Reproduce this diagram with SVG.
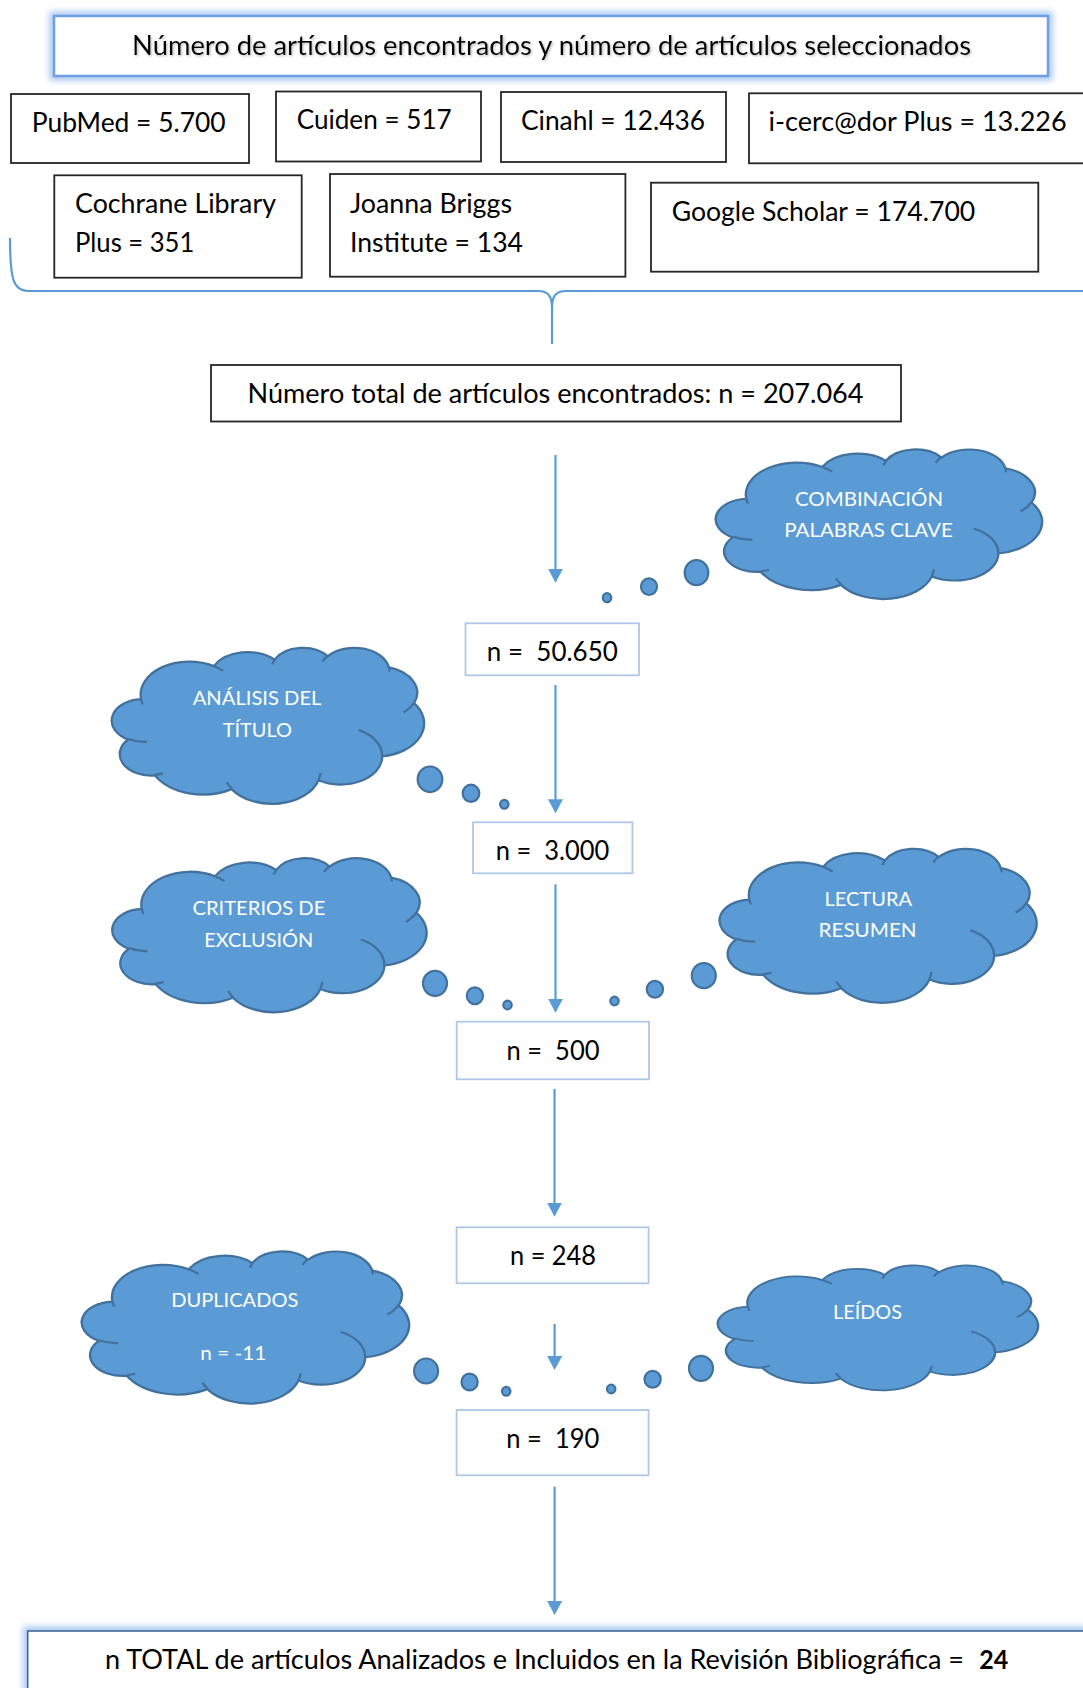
<svg xmlns="http://www.w3.org/2000/svg" xmlns:xlink="http://www.w3.org/1999/xlink" width="1083" height="1688" viewBox="0 0 1083 1688">
<style>
.t{font-family:Lato,"Liberation Sans",sans-serif;font-size:26px;fill:#000;white-space:pre}
.c{font-family:Lato,"Liberation Sans",sans-serif;font-size:20px;fill:#fff}
.bx{fill:#fff;stroke:#262626;stroke-width:1.8}
.nb{fill:#fff;stroke:#AFC7E8;stroke-width:1.8}
.cl{fill:#5B9BD5;stroke:#41719C;stroke-width:2.2;vector-effect:non-scaling-stroke}
.cli{fill:none;stroke:#41719C;stroke-width:2.2;vector-effect:non-scaling-stroke}
.bub{fill:#5B9BD5;stroke:#41719C;stroke-width:2.2}
.arr{stroke:#5B9BD5;stroke-width:2.2;fill:none}
.glow{fill:none;stroke:#A9C8F2;stroke-width:9}
</style>
<defs>
<filter id="blur" x="-5%" y="-30%" width="110%" height="160%"><feGaussianBlur stdDeviation="3"/></filter>
<filter id="tsh" x="-2%" y="-30%" width="104%" height="160%"><feDropShadow dx="1.2" dy="1.2" stdDeviation="0.8" flood-color="#888" flood-opacity="0.6"/></filter>
<marker id="ah" markerUnits="userSpaceOnUse" viewBox="0 0 14 15" refX="12" refY="7.5" markerWidth="14" markerHeight="15" orient="auto"><path d="M0,0 L14,7.5 L0,15 Z" fill="#5B9BD5"/></marker>
<path id="cloudO" d="M27.08,49.90 A46.90,31.91 0 0 1 97.25,18.06 A37.03,25.23 0 0 1 155.94,11.92 A30.31,20.64 0 0 1 207.17,8.61 A33.73,22.90 0 0 1 266.10,19.36 A37.03,25.25 0 0 1 290.41,53.68 A47.05,32.01 0 0 1 259.74,104.86 A40.17,27.32 0 0 1 198.29,127.81 A46.89,32.00 0 0 1 114.44,136.33 A53.61,36.61 0 0 1 40.30,123.15 A30.28,20.55 0 0 1 14.67,88.69 A30.17,20.64 0 0 1 27.08,49.90 Z"/>
<path id="cloudI" d="M32.59,90.89 A30.17,20.64 0 0 1 14.99,88.12 M48.11,121.18 A30.28,20.55 0 0 1 40.41,122.50 M114.43,135.73 A46.89,32.00 0 0 1 109.78,129.68 M200.19,120.66 A46.89,32.00 0 0 1 198.33,127.30 M237.01,79.70 A40.17,27.32 0 0 1 259.58,104.48 M290.26,53.31 A37.03,25.25 0 0 1 280.20,62.61 M266.14,18.84 A33.73,22.90 0 0 1 266.67,23.23 M201.93,13.72 A33.73,22.90 0 0 1 207.09,8.12 M153.76,16.39 A30.31,20.64 0 0 1 156.25,11.57 M97.22,18.03 A46.90,31.91 0 0 1 106.26,22.71 M28.66,54.82 A46.90,31.91 0 0 1 27.09,49.90"/>
</defs>
<rect width="1083" height="1688" fill="#fff"/>

<g id="title">
<rect class="glow" x="54" y="16" width="994" height="60" filter="url(#blur)"/>
<rect x="54" y="16" width="994" height="60" fill="#fff" stroke="#6E9FE6" stroke-width="2.5"/>
<text class="t" x="132" y="55" textLength="839" lengthAdjust="spacingAndGlyphs" filter="url(#tsh)">Número de artículos encontrados y número de artículos seleccionados</text>
</g>

<g id="pubmed"><rect class="bx" x="11" y="94" width="238" height="69"/><text class="t" x="31.7" y="131.7" textLength="194" lengthAdjust="spacingAndGlyphs">PubMed = 5.700</text></g>
<g id="cuiden"><rect class="bx" x="276" y="91.5" width="205" height="70"/><text class="t" x="296.7" y="129.3" textLength="155" lengthAdjust="spacingAndGlyphs">Cuiden = 517</text></g>
<g id="cinahl"><rect class="bx" x="501" y="92" width="225" height="70"/><text class="t" x="521" y="129.5" textLength="184" lengthAdjust="spacingAndGlyphs">Cinahl = 12.436</text></g>
<g id="icercador"><rect class="bx" x="749" y="93.3" width="345" height="70"/><text class="t" x="768.6" y="130.5" textLength="298" lengthAdjust="spacingAndGlyphs">i-cerc@dor Plus = 13.226</text></g>
<g id="cochrane"><rect class="bx" x="54.3" y="175.3" width="247.4" height="102.4"/><text class="t" x="75" y="212.7" textLength="201" lengthAdjust="spacingAndGlyphs">Cochrane Library</text><text class="t" x="75" y="251.7" textLength="119.3" lengthAdjust="spacingAndGlyphs">Plus = 351</text></g>
<g id="joanna"><rect class="bx" x="330" y="174" width="295.4" height="102.7"/><text class="t" x="350" y="212.5" textLength="162" lengthAdjust="spacingAndGlyphs">Joanna Briggs</text><text class="t" x="350" y="251.5" textLength="173" lengthAdjust="spacingAndGlyphs">Institute = 134</text></g>
<g id="google"><rect class="bx" x="651" y="182.7" width="387.3" height="89"/><text class="t" x="671.7" y="221" textLength="303.6" lengthAdjust="spacingAndGlyphs">Google Scholar = 174.700</text></g>

<g id="total"><rect class="bx" x="211" y="365" width="690" height="56.5"/><text class="t" x="247.5" y="402.7" textLength="616" lengthAdjust="spacingAndGlyphs">Número total de artículos encontrados: n = 207.064</text></g>

<g id="n50650"><rect class="nb" x="465.5" y="623.3" width="173.5" height="52"/><text class="t" x="486.8" y="660.7" textLength="131" lengthAdjust="spacingAndGlyphs">n =  50.650</text></g>
<g id="n3000"><rect class="nb" x="473" y="822.3" width="159.5" height="51"/><text class="t" x="495.8" y="860" textLength="113.5" lengthAdjust="spacingAndGlyphs">n =  3.000</text></g>
<g id="n500"><rect class="nb" x="456.7" y="1021.7" width="192.3" height="57.6"/><text class="t" x="506.5" y="1060" textLength="93" lengthAdjust="spacingAndGlyphs">n =  500</text></g>
<g id="n248"><rect class="nb" x="456.6" y="1227.3" width="192" height="56"/><text class="t" x="510" y="1265.3" textLength="86" lengthAdjust="spacingAndGlyphs">n = 248</text></g>
<g id="n190"><rect class="nb" x="456.6" y="1410" width="192" height="65.3"/><text class="t" x="506.3" y="1448.3" textLength="93" lengthAdjust="spacingAndGlyphs">n =  190</text></g>

<g id="final">
<rect class="glow" x="27.7" y="1631" width="1070" height="80" filter="url(#blur)"/>
<rect x="27.7" y="1631" width="1070" height="80" fill="#fff" stroke="#41698F" stroke-width="1.6"/>
<text class="t" x="105" y="1669.3" textLength="859" lengthAdjust="spacingAndGlyphs">n TOTAL de artículos Analizados e Incluidos en la Revisión Bibliográfica =</text>
<text class="t" x="979.3" y="1669.3" font-weight="bold" textLength="29" lengthAdjust="spacingAndGlyphs">24</text>
</g>

<g id="cloud-combinacion">
<use xlink:href="#cloudO" class="cl" transform="translate(717,449) scale(1.0833,0.9967)"/>
<use xlink:href="#cloudI" class="cli" transform="translate(717,449) scale(1.0833,0.9967)"/>
<ellipse class="bub" cx="696.5" cy="572.7" rx="11.8" ry="12.5"/>
<ellipse class="bub" cx="649" cy="586.7" rx="8" ry="8.3"/>
<ellipse class="bub" cx="607" cy="597.7" rx="4.2" ry="4.5"/>
<text class="c" x="795" y="506" textLength="148" lengthAdjust="spacingAndGlyphs">COMBINACIÓN</text>
<text class="c" x="784.3" y="536.7" textLength="168.5" lengthAdjust="spacingAndGlyphs">PALABRAS CLAVE</text>
</g>

<g id="cloud-analisis">
<use xlink:href="#cloudO" class="cl" transform="translate(113,647.3) scale(1.0367,1.04)"/>
<use xlink:href="#cloudI" class="cli" transform="translate(113,647.3) scale(1.0367,1.04)"/>
<ellipse class="bub" cx="430" cy="779.3" rx="12.3" ry="12.8"/>
<ellipse class="bub" cx="471" cy="793.3" rx="8.3" ry="8.6"/>
<ellipse class="bub" cx="504.3" cy="804.3" rx="4.2" ry="4.4"/>
<text class="c" x="192.7" y="705" textLength="128.7" lengthAdjust="spacingAndGlyphs">ANÁLISIS DEL</text>
<text class="c" x="222.7" y="737.3" textLength="69.3" lengthAdjust="spacingAndGlyphs">TÍTULO</text>
</g>

<g id="cloud-criterios">
<use xlink:href="#cloudO" class="cl" transform="translate(113.5,857.7) scale(1.0433,1.0267)"/>
<use xlink:href="#cloudI" class="cli" transform="translate(113.5,857.7) scale(1.0433,1.0267)"/>
<ellipse class="bub" cx="435" cy="983.3" rx="12" ry="12.5"/>
<ellipse class="bub" cx="474.9" cy="995.7" rx="8.1" ry="8.4"/>
<ellipse class="bub" cx="507.5" cy="1005" rx="4.2" ry="4.4"/>
<text class="c" x="192.4" y="915" textLength="133" lengthAdjust="spacingAndGlyphs">CRITERIOS DE</text>
<text class="c" x="204.2" y="946.7" textLength="109" lengthAdjust="spacingAndGlyphs">EXCLUSIÓN</text>
</g>

<g id="cloud-lectura">
<use xlink:href="#cloudO" class="cl" transform="translate(720.8,848.3) scale(1.0523,1.0267)"/>
<use xlink:href="#cloudI" class="cli" transform="translate(720.8,848.3) scale(1.0523,1.0267)"/>
<ellipse class="bub" cx="703.8" cy="975.7" rx="12" ry="12.5"/>
<ellipse class="bub" cx="654.9" cy="989.3" rx="8.1" ry="8.4"/>
<ellipse class="bub" cx="614.5" cy="1001" rx="4.2" ry="4.4"/>
<text class="c" x="824.5" y="906" textLength="87.5" lengthAdjust="spacingAndGlyphs">LECTURA</text>
<text class="c" x="818.6" y="936.7" textLength="98" lengthAdjust="spacingAndGlyphs">RESUMEN</text>
</g>

<g id="cloud-duplicados">
<use xlink:href="#cloudO" class="cl" transform="translate(83,1251) scale(1.0867,1.0133)"/>
<use xlink:href="#cloudI" class="cli" transform="translate(83,1251) scale(1.0867,1.0133)"/>
<ellipse class="bub" cx="426.1" cy="1371" rx="12" ry="12.5"/>
<ellipse class="bub" cx="469.6" cy="1382" rx="8.1" ry="8.4"/>
<ellipse class="bub" cx="506.2" cy="1391.3" rx="4.2" ry="4.4"/>
<text class="c" x="171.3" y="1307.3" textLength="127" lengthAdjust="spacingAndGlyphs">DUPLICADOS</text>
<text class="c" x="200.3" y="1360" textLength="66" lengthAdjust="spacingAndGlyphs">n = -11</text>
</g>

<g id="cloud-leidos">
<use xlink:href="#cloudO" class="cl" transform="translate(719,1265) scale(1.0633,0.8333)"/>
<use xlink:href="#cloudI" class="cli" transform="translate(719,1265) scale(1.0633,0.8333)"/>
<ellipse class="bub" cx="701" cy="1368.3" rx="12" ry="12.5"/>
<ellipse class="bub" cx="652.6" cy="1379.3" rx="8.1" ry="8.4"/>
<ellipse class="bub" cx="611.2" cy="1389" rx="4.2" ry="4.4"/>
<text class="c" x="833" y="1319.3" textLength="69" lengthAdjust="spacingAndGlyphs">LEÍDOS</text>
</g>

<g id="connectors">
<path class="arr" stroke-width="1.5" d="M10,238 C10,278 13,291 28,291 L538,291 C548,291 552,296 552,308 L552,344 M552,308 C552,296 556,291 566,291 L1090,291"/>
<line class="arr" x1="555.5" y1="455" x2="555.5" y2="580.7" marker-end="url(#ah)"/>
<line class="arr" x1="555.5" y1="685" x2="555.5" y2="811.3" marker-end="url(#ah)"/>
<line class="arr" x1="555.5" y1="884.3" x2="555.5" y2="1010.7" marker-end="url(#ah)"/>
<line class="arr" x1="554.5" y1="1089" x2="554.5" y2="1214.7" marker-end="url(#ah)"/>
<line class="arr" x1="554.6" y1="1324" x2="554.6" y2="1368" marker-end="url(#ah)"/>
<line class="arr" x1="554.6" y1="1486.7" x2="554.6" y2="1613" marker-end="url(#ah)"/>
</g>
</svg>
